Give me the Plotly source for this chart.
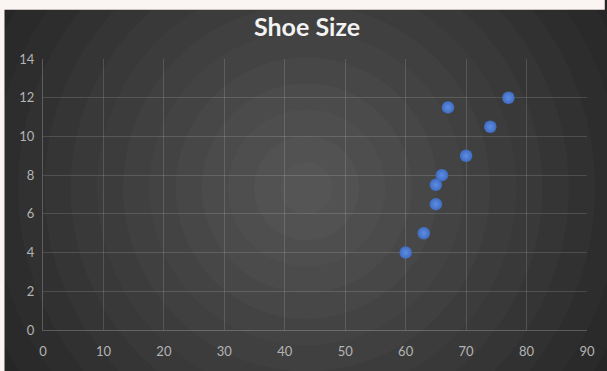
import plotly.graph_objects as go

# Height (in) vs shoe size
height = [60, 63, 65, 65, 66, 70, 74, 67, 77]
shoe_size = [4, 5, 6.5, 7.5, 8, 9, 10.5, 11.5, 12]
x_ticks = [0, 10, 20, 30, 40, 50, 60, 70, 80, 90]
y_ticks = [0, 2, 4, 6, 8, 10, 12, 14]

W, H = 607, 371
L, R, T, B = 43, 13, 59, 37
PW, PH = W - L - R, H - T - B


def px(x):
    return (x - L) / PW


def py(y):
    return (H - B - y) / PH


shapes = []
# dark chart area
shapes.append(dict(type="rect", xref="paper", yref="paper", layer="below",
                   x0=px(4), x1=px(W + 5), y0=py(H + 5), y1=py(9),
                   fillcolor="#262626", line_width=0))

# radial glow made of concentric bands
cx, cy = 310, 190
c_in, c_out = 0x58, 0x26
r_max = 372
n = 14
for i in range(n, 0, -1):
    r = r_max * i / n
    v = round(c_in + (c_out - c_in) * (r / r_max) ** 1.05)
    col = "#%02x%02x%02x" % (v, v, v)
    shapes.append(dict(type="circle", xref="paper", yref="paper", layer="below",
                       x0=px(cx - r), x1=px(cx + r), y0=py(cy + r), y1=py(cy - r),
                       fillcolor=col, line_width=0))

# light frame strips along top and left edge
frame = "#faf5f2"
shapes.append(dict(type="rect", xref="paper", yref="paper", layer="below",
                   x0=px(-5), x1=px(W + 5), y0=py(9), y1=py(-5),
                   fillcolor=frame, line_width=0))
shapes.append(dict(type="rect", xref="paper", yref="paper", layer="below",
                   x0=px(-5), x1=px(4), y0=py(H + 5), y1=py(-5),
                   fillcolor=frame, line_width=0))

fig = go.Figure()
fig.add_trace(go.Scatter(
    x=height, y=shoe_size, mode="markers",
    marker=dict(size=12.5, color="#3f6cc2",
                gradient=dict(type="radial", color="#5d8de2"),
                line=dict(width=0)),
    hoverinfo="x+y", showlegend=False,
))

grid = "rgba(255,255,255,0.14)"
tickfont = dict(family="Lato, Open Sans, sans-serif", size=13, color="#b4b4b4")
fig.update_layout(
    width=W, height=H,
    margin=dict(l=L, r=R, t=T, b=B, pad=0),
    paper_bgcolor="#262626",
    plot_bgcolor="rgba(0,0,0,0)",
    shapes=shapes,
    title=dict(text="<b>Shoe Size</b>", x=(307 / W), xref="container", xanchor="center",
               y=1 - 27 / H, yanchor="middle",
               font=dict(family="Lato, Open Sans, sans-serif", size=25, color="#f2f2f2")),
    xaxis=dict(range=[0, 90], tickvals=x_ticks, showgrid=True, gridcolor=grid, gridwidth=1,
               zeroline=False, showline=True, linecolor="rgba(255,255,255,0.22)", linewidth=1,
               mirror=False, ticks="", tickfont=tickfont, ticklabelstandoff=9,
               fixedrange=True),
    yaxis=dict(range=[0, 14], tickvals=y_ticks, showgrid=True, gridcolor=grid, gridwidth=1,
               zeroline=False, showline=True, linecolor="rgba(255,255,255,0.22)", linewidth=1,
               ticks="", tickfont=tickfont, ticklabelstandoff=5, fixedrange=True),
)

fig.write_html("out.html")
